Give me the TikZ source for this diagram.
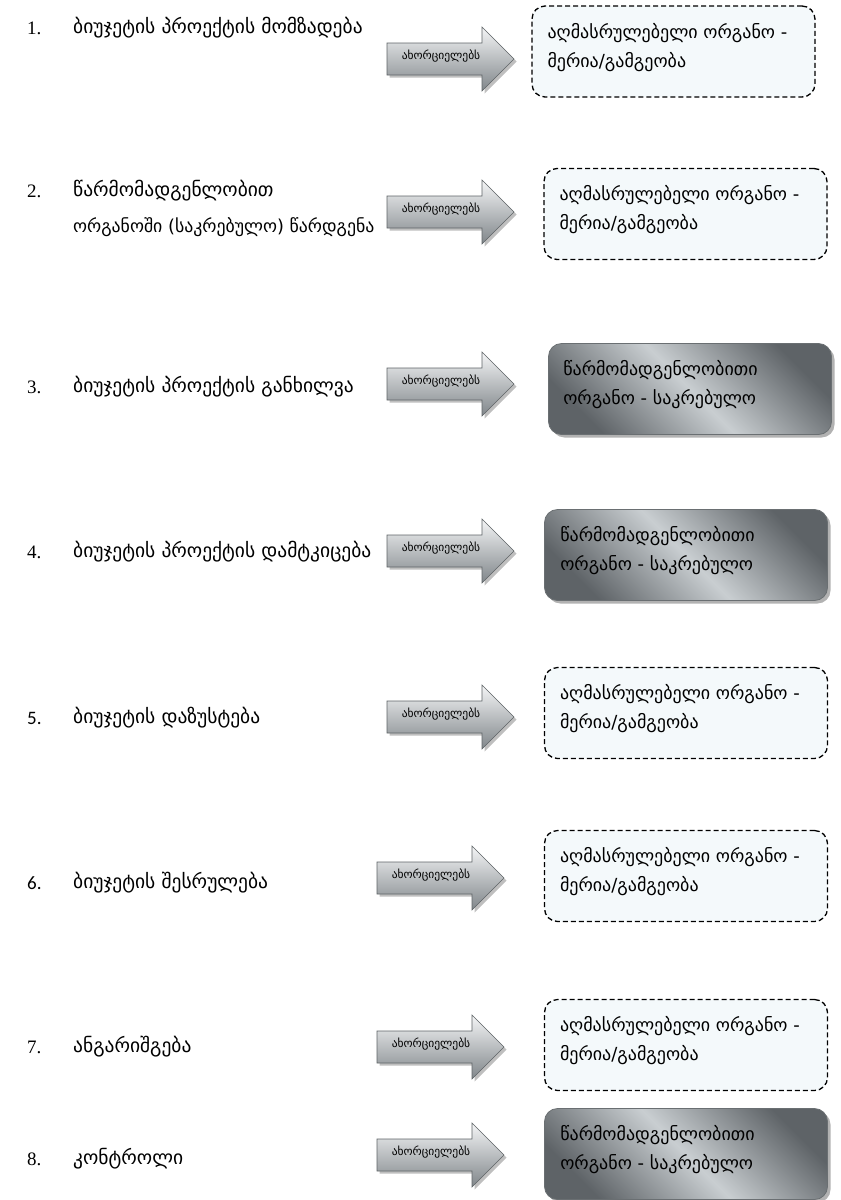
\documentclass[tikz,border=0pt]{standalone}
\usepackage{fontspec}
\setmainfont{DejaVu Sans}
\newfontfamily\numfont{Liberation Serif}
\newfontfamily\numsans{Carlito}
\usetikzlibrary{shadows}
\definecolor{boxfill}{HTML}{F4F9FB}
\definecolor{gdark}{HTML}{5E6367}
\definecolor{glight}{HTML}{C9CED1}
\definecolor{grayedge}{HTML}{6A6F72}
\definecolor{arrtop}{HTML}{F4F5F6}
\definecolor{arrbot}{HTML}{80868A}
\definecolor{arredge}{HTML}{5F6467}
\tikzset{
  rowtxt/.style={anchor=west, font=\fontsize{19.5}{22}\selectfont, inner sep=0pt},
  rowtxtsm/.style={anchor=west, font=\fontsize{17.8}{22}\selectfont, inner sep=0pt},
  numtxt/.style={anchor=west, font=\numfont\fontsize{19}{22}\selectfont, inner sep=0pt},
  numsanstxt/.style={anchor=west, font=\numsans\fontsize{19}{22}\selectfont, inner sep=0pt},
  dashbox/.style={draw=black, dash pattern=on 5pt off 3pt, line width=1.3pt, fill=boxfill,
    rounded corners=13pt, minimum width=283pt, minimum height=91pt, inner sep=0pt},
  graybox/.style={draw=grayedge, line width=0.8pt, rounded corners=13pt,
    minimum width=283pt, minimum height=91pt, inner sep=0pt,
    top color=gdark, bottom color=gdark, middle color=glight, shading angle=-45,
    drop shadow={shadow xshift=3pt, shadow yshift=-3pt, fill=black, opacity=0.3}},
  boxtxt/.style={anchor=west, align=left, font=\fontsize{18}{29}\selectfont, inner sep=0pt},
  arrlbl/.style={font=\fontsize{11.5}{12}\selectfont, inner sep=0pt},
  blockarr/.pic={
    \fill[black, opacity=0.25] (2.5,-13.5) -- (97.5,-13.5) -- (97.5,-29.5) -- (129.5,2.5)
      -- (97.5,34.5) -- (97.5,18.5) -- (2.5,18.5) -- cycle;
    \shade[draw=arredge, line width=0.6pt, top color=arrtop, bottom color=arrbot]
      (0,-16) -- (95,-16) -- (95,-32) -- (127,0) -- (95,32) -- (95,16) -- (0,16) -- cycle;
    \node[arrlbl] (-lbl) at (54,-3) {ახორციელებს};
  }
}
\begin{document}
\begin{tikzpicture}[x=1pt, y=-1pt]
\useasboundingbox[fill=white] (0,0) rectangle (841,1200);

% left column
\node[numtxt] (n1) at (27,28) {1.};
\node[rowtxt] (t1) at (73,28) {ბიუჯეტის პროექტის მომზადება};
\node[numtxt] (n2) at (27,191) {2.};
\node[rowtxt] (t2a) at (73,191) {წარმომადგენლობით};
\node[rowtxtsm] (t2b) at (73,227) {ორგანოში (საკრებულო) წარდგენა};
\node[numtxt] (n3) at (27,387) {3.};
\node[rowtxt] (t3) at (73,387) {ბიუჯეტის პროექტის განხილვა};
\node[numtxt] (n4) at (27,552) {4.};
\node[rowtxt] (t4) at (73,552) {ბიუჯეტის პროექტის დამტკიცება};
\node[numsanstxt] (n5) at (27,718) {5.};
\node[rowtxt] (t5) at (73,718) {ბიუჯეტის დაზუსტება};
\node[numsanstxt] (n6) at (27,883) {6.};
\node[rowtxt] (t6) at (73,883) {ბიუჯეტის შესრულება};
\node[numtxt] (n7) at (27,1047) {7.};
\node[rowtxt] (t7) at (73,1047) {ანგარიშგება};
\node[numtxt] (n8) at (27,1159) {8.};
\node[rowtxt] (t8) at (73,1159) {კონტროლი};

% arrows
\pic (a1) at (387,59) {blockarr};
\pic (a2) at (387,212) {blockarr};
\pic (a3) at (387,384) {blockarr};
\pic (a4) at (387,551) {blockarr};
\pic (a5) at (387,717) {blockarr};
\pic (a6) at (377,878) {blockarr};
\pic (a7) at (377,1047) {blockarr};
\pic (a8) at (377,1155) {blockarr};

% boxes
\node[dashbox] (b1) at (673.5,51.5) {};
\node[boxtxt] (bt1) at ([xshift=16pt,yshift=4pt]b1.west) {აღმასრულებელი ორგანო -\\მერია/გამგეობა};
\node[dashbox] (b2) at (685.5,214) {};
\node[boxtxt] (bt2) at ([xshift=16pt,yshift=4pt]b2.west) {აღმასრულებელი ორგანო -\\მერია/გამგეობა};
\node[graybox] (b3) at (690,389) {};
\node[boxtxt] (bt3) at ([xshift=15pt,yshift=4pt]b3.west) {წარმომადგენლობითი\\ორგანო - საკრებულო};
\node[graybox] (b4) at (686,555) {};
\node[boxtxt] (bt4) at ([xshift=16pt,yshift=4pt]b4.west) {წარმომადგენლობითი\\ორგანო - საკრებულო};
\node[dashbox] (b5) at (686,713) {};
\node[boxtxt] (bt5) at ([xshift=16pt,yshift=4pt]b5.west) {აღმასრულებელი ორგანო -\\მერია/გამგეობა};
\node[dashbox] (b6) at (686,876) {};
\node[boxtxt] (bt6) at ([xshift=16pt,yshift=4pt]b6.west) {აღმასრულებელი ორგანო -\\მერია/გამგეობა};
\node[dashbox] (b7) at (686,1045) {};
\node[boxtxt] (bt7) at ([xshift=16pt,yshift=4pt]b7.west) {აღმასრულებელი ორგანო -\\მერია/გამგეობა};
\node[graybox] (b8) at (686,1154) {};
\node[boxtxt] (bt8) at ([xshift=16pt,yshift=4pt]b8.west) {წარმომადგენლობითი\\ორგანო - საკრებულო};
\end{tikzpicture}
\end{document}
